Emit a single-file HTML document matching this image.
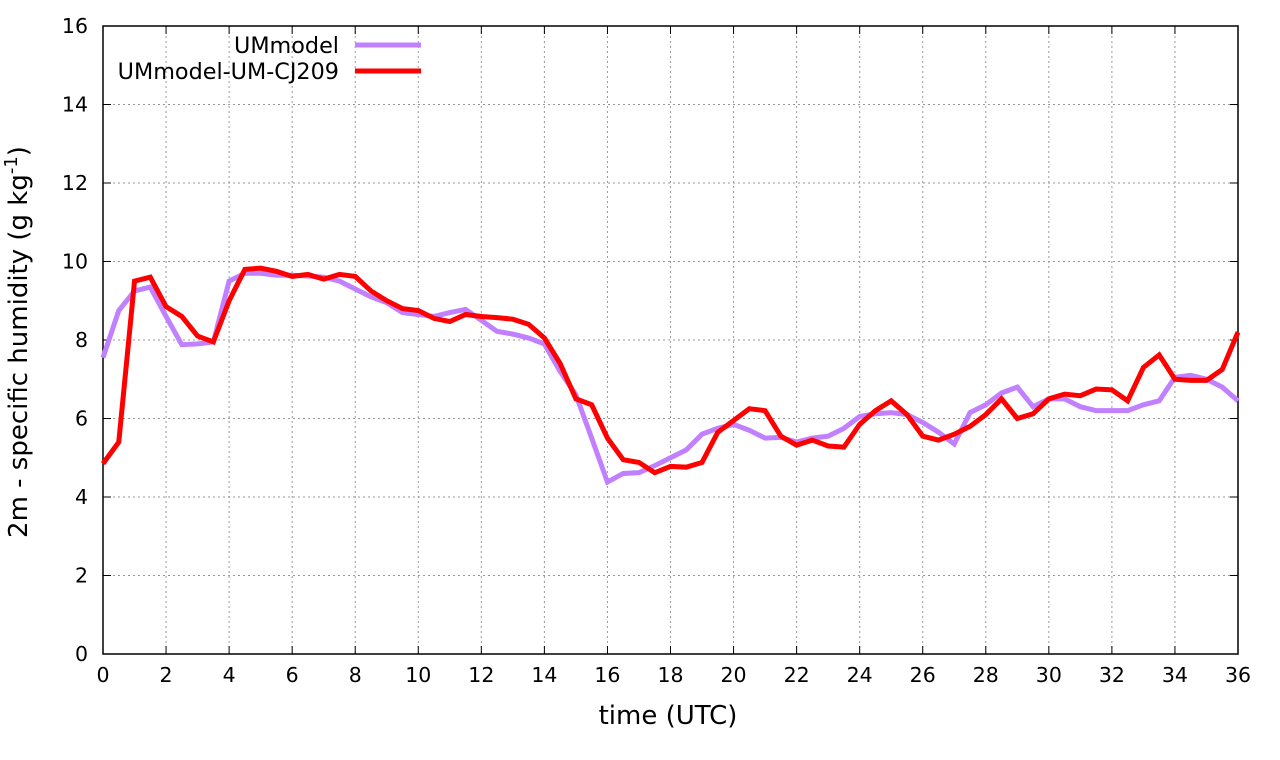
<!DOCTYPE html>
<html><head><meta charset="utf-8"><style>
body{margin:0;background:#fff}
svg{display:block;font-family:"DejaVu Sans",sans-serif}
</style></head><body>
<svg id="chart" width="1280" height="760"></svg>
<script>
const times=[];for(let i=0;i<=72;i++)times.push(i/2);
const umModel=[7.55,8.75,9.25,9.35,8.6,7.88,7.9,7.95,9.5,9.7,9.7,9.65,9.65,9.63,9.6,9.5,9.3,9.1,8.95,8.7,8.65,8.6,8.7,8.78,8.5,8.22,8.15,8.05,7.9,7.2,6.6,5.5,4.38,4.6,4.62,4.8,5.0,5.2,5.6,5.75,5.85,5.7,5.5,5.52,5.4,5.5,5.55,5.75,6.05,6.12,6.15,6.1,5.9,5.65,5.35,6.15,6.35,6.65,6.8,6.3,6.5,6.5,6.3,6.2,6.2,6.2,6.35,6.45,7.05,7.1,7.0,6.8,6.45];
const umCJ209=[4.85,5.4,9.5,9.6,8.85,8.6,8.1,7.95,9.0,9.8,9.83,9.75,9.62,9.67,9.55,9.67,9.62,9.25,9.0,8.8,8.75,8.55,8.47,8.65,8.6,8.57,8.53,8.4,8.05,7.4,6.5,6.35,5.5,4.95,4.88,4.62,4.78,4.76,4.88,5.65,5.95,6.25,6.2,5.55,5.32,5.45,5.3,5.27,5.85,6.2,6.45,6.1,5.55,5.45,5.6,5.8,6.1,6.5,6.0,6.12,6.5,6.62,6.58,6.75,6.73,6.45,7.3,7.62,7.0,6.97,6.97,7.25,8.2];
const xTicks=[0,2,4,6,8,10,12,14,16,18,20,22,24,26,28,30,32,34,36];
const yTicks=[0,2,4,6,8,10,12,14,16];
const NS="http://www.w3.org/2000/svg";
const svg=document.getElementById('chart');
const L=103,R=1238,T=26,B=654;
const xs=v=>L+(v/36)*(R-L), ys=v=>B-(v/16)*(B-T);
function mk(tag,attrs,parent){const e=document.createElementNS(NS,tag);for(const k in attrs)e.setAttribute(k,attrs[k]);(parent||svg).appendChild(e);return e;}
const grid=mk('g',{});


xTicks.forEach(t=>{
 if(t>0&&t<36)mk('line',{x1:xs(t),x2:xs(t),y1:T,y2:B,stroke:'#999','stroke-dasharray':'2,3','stroke-width':1},grid);
 mk('line',{x1:xs(t),x2:xs(t),y1:B,y2:B-8,stroke:'#000'});mk('line',{x1:xs(t),x2:xs(t),y1:T,y2:T+8,stroke:'#000'});
 const tx=mk('text',{x:xs(t),y:B+28,'text-anchor':'middle','font-size':20.5});tx.textContent=t;
 
 
});
yTicks.forEach(t=>{
 if(t>0&&t<16)mk('line',{x1:L,x2:R,y1:ys(t),y2:ys(t),stroke:'#999','stroke-dasharray':'2,3','stroke-width':1},grid);
 mk('line',{x1:L,x2:L+8,y1:ys(t),y2:ys(t),stroke:'#000'});mk('line',{x1:R,x2:R-8,y1:ys(t),y2:ys(t),stroke:'#000'});
 const tx=mk('text',{x:L-15,y:ys(t)+7,'text-anchor':'end','font-size':20.5});tx.textContent=t;
 
 
});
const frame=mk('rect',{x:L,y:T,width:R-L,height:B-T,fill:'none',stroke:'#000','stroke-width':1.5});


function series(vals,color,name){
 const p=mk('polyline',{points:vals.map((v,i)=>xs(times[i])+','+ys(v)).join(' '),fill:'none',stroke:color,'stroke-width':5,'stroke-linejoin':'miter'});
 
 
}
series(umModel,'#c080ff','series-ummodel');
series(umCJ209,'#ff0000','series-ummodel-um-cj209');
function leg(y,label,color,name){
 const g=mk('g',{});
 
 
 const t=mk('text',{x:339,y:y+8,'text-anchor':'end','font-size':22.3},g);t.textContent=label;
 mk('line',{x1:355,x2:421,y1:y,y2:y,stroke:color,'stroke-width':5},g);
}
leg(45,'UMmodel','#c080ff','legend-entry-ummodel');
leg(71,'UMmodel-UM-CJ209','#ff0000','legend-entry-cj209');
const xt=mk('text',{x:668,y:724,'text-anchor':'middle','font-size':26});
xt.textContent='time (UTC)';


const yt=mk('text',{transform:'translate(27,342) rotate(-90)','text-anchor':'middle','font-size':26});


yt.appendChild(document.createTextNode('2m - specific humidity (g kg'));
const sup=mk('tspan',{'baseline-shift':'super','font-size':18},yt);sup.textContent='-1';
const close=mk('tspan',{},yt);close.textContent=')';
</script>
</body></html>
